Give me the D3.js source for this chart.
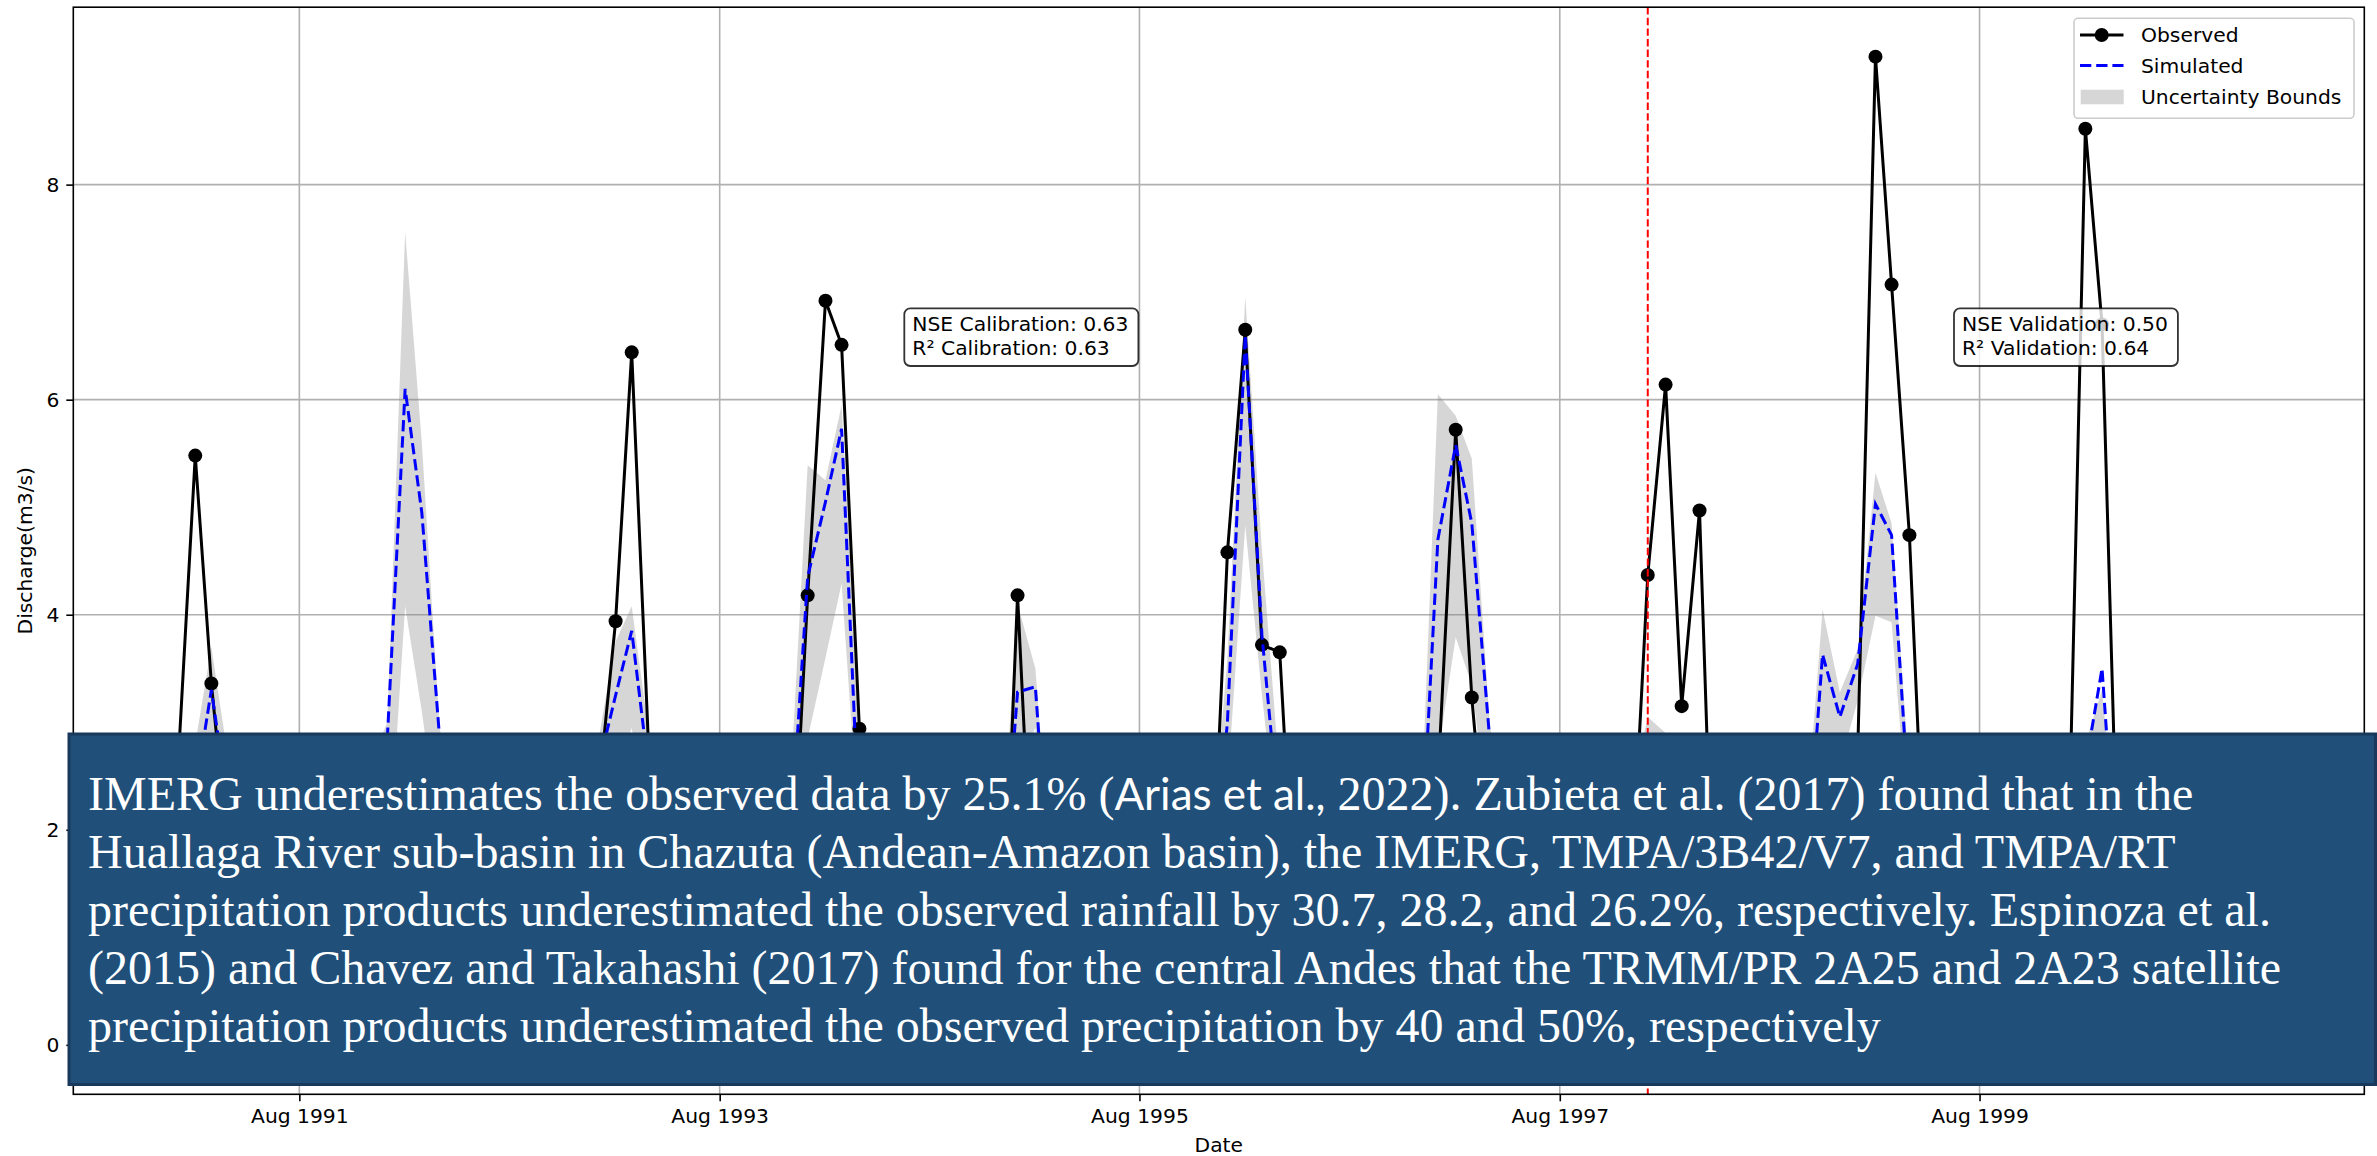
<!DOCTYPE html>
<html><head><meta charset="utf-8">
<script src="https://cdn.jsdelivr.net/npm/d3@7"></script>
<style>body{margin:0;background:#fff;} svg{display:block}</style>
</head><body>
<svg id="chart" width="2377" height="1156"></svg>
<script>
// ---------------- DATA (monthly, Jan 1991 – Dec 2000) ----------------
const firstMonth = "1991-01-01";
const lastMonth  = "2000-12-01";

const observed = [
  2.50, 5.48, 3.36, 1.70, 1.10, 0.80, 0.60, 0.50, 0.60, 0.90, 1.30, 1.80,   // 1991
  2.20, 2.60, 2.40, 1.90, 1.20, 0.80, 0.60, 0.50, 0.60, 0.90, 1.20, 1.60,   // 1992
  2.28, 3.94, 6.44, 2.56, 1.50, 0.90, 0.70, 0.60, 0.60, 0.80, 1.00, 1.02,   // 1993
  4.18, 6.92, 6.51, 2.94, 1.50, 0.90, 0.60, 0.50, 0.50, 0.60, 0.50, 0.10,   // 1994
  4.18, 0.79, 1.20, 1.00, 0.80, 0.60, 0.50, 0.40, 0.50, 0.60, 0.70, 0.85,   // 1995
  4.58, 6.65, 3.72, 3.65, 0.79, 0.70, 0.50, 0.40, 0.50, 0.70, 1.00, 1.50,   // 1996
  2.46, 5.72, 3.23, 1.35, 0.90, 0.60, 0.50, 0.40, 0.50, 0.70, 0.90, 1.19,   // 1997
  4.37, 6.14, 3.15, 4.97, 0.10, 0.50, 0.40, 0.40, 0.50, 0.80, 1.20, 1.90,   // 1998
  2.70, 9.19, 7.07, 4.74, 1.08, 0.70, 0.50, 0.40, 0.50, 0.70, 0.90, 1.10,   // 1999
  1.40, 8.52, 6.70, 0.89, 0.70, 0.50, 0.40, 0.40, 0.50, 0.70, 0.90, 1.20    // 2000
];
const simulated = [
  1.60, 2.36, 3.30, 2.17, 1.40, 0.90, 0.70, 0.60, 0.70, 1.00, 1.50, 2.10,
  2.85, 6.10, 4.95, 2.85, 1.60, 1.00, 0.70, 0.60, 0.70, 1.00, 1.40, 1.90,
  2.56, 3.25, 3.85, 2.48, 1.50, 0.90, 0.70, 0.60, 0.70, 0.90, 1.20, 1.79,
  4.35, 5.05, 5.73, 1.97, 1.30, 0.80, 0.60, 0.50, 0.60, 0.80, 1.00, 1.12,
  3.28, 3.33, 1.24, 1.00, 0.80, 0.60, 0.50, 0.50, 0.60, 0.80, 0.90, 1.20,
  3.00, 6.60, 3.81, 2.05, 1.30, 0.80, 0.60, 0.50, 0.60, 0.90, 1.20, 1.55,
  4.70, 5.58, 4.85, 2.85, 1.40, 0.90, 0.60, 0.50, 0.60, 0.90, 1.30, 1.80,
  2.30, 2.50, 2.20, 2.40, 1.50, 0.90, 0.70, 0.60, 0.80, 1.39, 3.63, 3.05,
  3.54, 5.03, 4.74, 2.17, 1.30, 0.80, 0.60, 0.50, 0.60, 0.80, 1.00, 1.30,
  1.80, 2.58, 3.50, 1.15, 0.80, 0.60, 0.50, 0.50, 0.60, 0.80, 1.00, 1.30
];
const upperBound = [
  2.00, 2.80, 3.70, 2.60, 1.80, 1.20, 0.90, 0.80, 0.90, 1.30, 1.90, 2.60,
  3.00, 7.56, 5.60, 2.95, 2.00, 1.30, 0.90, 0.80, 0.90, 1.30, 1.80, 2.40,
  2.80, 3.75, 4.08, 2.85, 1.90, 1.20, 0.90, 0.80, 0.90, 1.20, 1.50, 2.30,
  5.39, 5.25, 5.95, 2.95, 1.70, 1.10, 0.80, 0.70, 0.80, 1.00, 1.30, 1.50,
  4.10, 3.50, 1.60, 1.30, 1.00, 0.80, 0.70, 0.70, 0.80, 1.00, 1.20, 1.60,
  3.60, 6.96, 4.60, 2.50, 1.70, 1.10, 0.80, 0.70, 0.80, 1.20, 1.60, 1.90,
  6.05, 5.85, 5.45, 3.00, 1.80, 1.20, 0.80, 0.70, 0.80, 1.20, 1.70, 2.30,
  3.05, 2.90, 2.70, 2.80, 1.90, 1.20, 0.90, 0.80, 1.00, 1.90, 4.05, 3.28,
  3.68, 5.32, 4.85, 2.50, 1.60, 1.00, 0.80, 0.70, 0.80, 1.00, 1.30, 1.70,
  2.20, 2.80, 3.30, 1.50, 1.00, 0.80, 0.70, 0.70, 0.80, 1.00, 1.30, 1.70
];
const lowerBound = [
  1.20, 1.90, 2.60, 1.70, 1.00, 0.60, 0.50, 0.40, 0.50, 0.70, 1.10, 1.60,
  1.50, 4.08, 3.10, 1.90, 1.20, 0.70, 0.50, 0.40, 0.50, 0.70, 1.00, 1.40,
  2.20, 2.50, 2.95, 1.90, 1.10, 0.60, 0.50, 0.40, 0.50, 0.60, 0.80, 1.20,
  2.85, 3.60, 4.29, 1.92, 1.00, 0.60, 0.40, 0.30, 0.40, 0.50, 0.60, 0.80,
  2.60, 2.95, 0.90, 0.70, 0.60, 0.40, 0.30, 0.30, 0.40, 0.50, 0.60, 0.80,
  2.40, 4.83, 3.25, 1.80, 1.00, 0.60, 0.40, 0.30, 0.40, 0.60, 0.90, 1.20,
  2.70, 3.79, 3.35, 2.00, 1.00, 0.60, 0.40, 0.30, 0.40, 0.60, 0.90, 1.30,
  1.60, 1.90, 1.70, 1.80, 1.10, 0.60, 0.50, 0.40, 0.50, 1.00, 2.90, 2.60,
  3.20, 3.99, 3.93, 1.90, 1.00, 0.60, 0.40, 0.30, 0.40, 0.60, 0.80, 1.00,
  1.30, 2.00, 2.50, 0.80, 0.50, 0.30, 0.20, 0.20, 0.30, 0.50, 0.70, 0.90
];

const yLimits = [-0.46, 9.65];
const yTicks = [0, 2, 4, 6, 8];
const xTickDates = ["1991-08-01", "1993-08-01", "1995-08-01", "1997-08-01", "1999-08-01"];
const xTickLabels = ["Aug 1991", "Aug 1993", "Aug 1995", "Aug 1997", "Aug 1999"];
const splitDate = "1998-01-01";
const legendLabels = ["Observed", "Simulated", "Uncertainty Bounds"];
const calibrationText = ["NSE Calibration: 0.63", "R\u00B2 Calibration: 0.63"];
const validationText  = ["NSE Validation: 0.50", "R\u00B2 Validation: 0.64"];
const xLabel = "Date";
const yLabel = "Discharge(m3/s)";
const noteLines = [
  "IMERG underestimates the observed data by 25.1% (Arias et al., 2022). Zubieta et al. (2017) found that in the",
  "Huallaga River sub-basin in Chazuta (Andean-Amazon basin), the IMERG, TMPA/3B42/V7, and TMPA/RT",
  "precipitation products underestimated the observed rainfall by 30.7, 28.2, and 26.2%, respectively. Espinoza et al.",
  "(2015) and Chavez and Takahashi (2017) found for the central Andes that the TRMM/PR 2A25 and 2A23 satellite",
  "precipitation products underestimated the observed precipitation by 40 and 50%, respectively"
];
const noteSansPhrase = "Arias et al.,";

// ---------------- LAYOUT ----------------
const SANS = "'DejaVu Sans', sans-serif";
const SERIF = "'Liberation Serif', 'Times New Roman', serif";
const FS = 20.3;
const MR = 7;
const plot = {left: 73.3, right: 2364.3, top: 7.2, bottom: 1094.3};

const parse = d3.utcParse("%Y-%m-%d");
const months = d3.utcMonth.range(parse(firstMonth), d3.utcMonth.offset(parse(lastMonth), 1));
const data = months.map((d, i) => ({date: d, obs: observed[i], sim: simulated[i], lo: lowerBound[i], hi: upperBound[i]}));

const t0 = +months[0], t1 = +months[months.length - 1], span = t1 - t0;
const x = d3.scaleUtc().domain([new Date(t0 - 0.05 * span), new Date(t1 + 0.05 * span)]).range([plot.left, plot.right]);
const y = d3.scaleLinear().domain(yLimits).range([plot.bottom, plot.top]);

const svg = d3.select("#chart");
svg.append("rect").attr("width", 2377).attr("height", 1156).attr("fill", "#fff");

svg.append("clipPath").attr("id", "clip").append("rect")
  .attr("x", plot.left).attr("y", plot.top).attr("width", plot.right - plot.left).attr("height", plot.bottom - plot.top);

// grid
const grid = svg.append("g").attr("stroke", "#b0b0b0").attr("stroke-width", 1.6);
grid.selectAll("line.v").data(xTickDates).join("line")
  .attr("x1", d => x(parse(d))).attr("x2", d => x(parse(d))).attr("y1", plot.top).attr("y2", plot.bottom);
grid.selectAll("line.h").data(yTicks).join("line")
  .attr("x1", plot.left).attr("x2", plot.right).attr("y1", d => y(d)).attr("y2", d => y(d));

const g = svg.append("g").attr("clip-path", "url(#clip)");

// uncertainty band
g.append("path").datum(data)
  .attr("d", d3.area().x(d => x(d.date)).y0(d => y(d.lo)).y1(d => y(d.hi)))
  .attr("fill", "#808080").attr("fill-opacity", 0.32);

// observed
g.append("path").datum(data)
  .attr("d", d3.line().x(d => x(d.date)).y(d => y(d.obs)))
  .attr("fill", "none").attr("stroke", "#000").attr("stroke-width", 3).attr("stroke-linejoin", "round");
g.selectAll("circle.obs").data(data).join("circle")
  .attr("cx", d => x(d.date)).attr("cy", d => y(d.obs)).attr("r", MR).attr("fill", "#000");

// simulated
g.append("path").datum(data)
  .attr("d", d3.line().x(d => x(d.date)).y(d => y(d.sim)))
  .attr("fill", "none").attr("stroke", "#0000ff").attr("stroke-width", 3).attr("stroke-dasharray", "11.3,4.9");

// split line
g.append("line").attr("x1", x(parse(splitDate))).attr("x2", x(parse(splitDate)))
  .attr("y1", plot.top).attr("y2", plot.bottom)
  .attr("stroke", "#ff0000").attr("stroke-width", 2).attr("stroke-dasharray", "7.4,3.2");

// axes
const xAxis = d3.axisBottom(x).tickValues(xTickDates.map(parse)).tickFormat((d, i) => xTickLabels[i])
  .tickSize(7).tickPadding(7).tickSizeOuter(0);
const yAxis = d3.axisLeft(y).tickValues(yTicks).tickFormat(d3.format("d")).tickSize(7).tickPadding(7).tickSizeOuter(0);
const gx = svg.append("g").attr("transform", `translate(0,${plot.bottom})`).call(xAxis);
const gy = svg.append("g").attr("transform", `translate(${plot.left},0)`).call(yAxis);
[gx, gy].forEach(a => {
  a.select(".domain").remove();
  a.selectAll(".tick line").attr("stroke", "#000").attr("stroke-width", 1.6);
  a.selectAll(".tick text").attr("fill", "#000").style("font-family", SANS).style("font-size", FS + "px");
});

// spines
svg.append("rect").attr("x", plot.left).attr("y", plot.top)
  .attr("width", plot.right - plot.left).attr("height", plot.bottom - plot.top)
  .attr("fill", "none").attr("stroke", "#000").attr("stroke-width", 1.6);

// labels
svg.append("text").attr("x", (plot.left + plot.right) / 2).attr("y", 1152).attr("text-anchor", "middle")
  .style("font-family", SANS).style("font-size", FS + "px").attr("fill", "#000").text(xLabel);
svg.append("text").attr("transform", `translate(32,${(plot.top + plot.bottom) / 2}) rotate(-90)`)
  .attr("text-anchor", "middle").style("font-family", SANS).style("font-size", FS + "px").attr("fill", "#000").text(yLabel);

// metric boxes
function metricBox(lines, tx) {
  const grp = svg.append("g");
  const bg = grp.append("rect");
  const txt = grp.append("text").style("font-family", SANS).style("font-size", FS + "px").attr("fill", "#000");
  lines.forEach((l, i) => txt.append("tspan").attr("x", tx).attr("y", 330.7 + i * 24.4).text(l));
  const bb = txt.node().getBBox();
  bg.attr("x", tx - 8).attr("y", 308.3).attr("width", bb.width + 18).attr("height", 57.7)
    .attr("rx", 6).attr("fill", "#fff").attr("fill-opacity", 0.8)
    .attr("stroke", "#000").attr("stroke-opacity", 0.8).attr("stroke-width", 1.8);
}
metricBox(calibrationText, 912.3);
metricBox(validationText, 1962);

// legend
const lg = svg.append("g");
lg.append("rect").attr("x", 2074).attr("y", 18.3).attr("width", 280).attr("height", 100).attr("rx", 4)
  .attr("fill", "#fff").attr("fill-opacity", 0.8).attr("stroke", "#cccccc").attr("stroke-width", 1.6);
const rowY = [35, 65.5, 97];
lg.append("line").attr("x1", 2080).attr("x2", 2123.5).attr("y1", rowY[0]).attr("y2", rowY[0]).attr("stroke", "#000").attr("stroke-width", 3);
lg.append("circle").attr("cx", 2101.7).attr("cy", rowY[0]).attr("r", MR).attr("fill", "#000");
lg.append("line").attr("x1", 2080).attr("x2", 2123.5).attr("y1", rowY[1]).attr("y2", rowY[1]).attr("stroke", "#0000ff").attr("stroke-width", 3).attr("stroke-dasharray", "11.3,4.9");
lg.append("rect").attr("x", 2080.7).attr("y", rowY[2] - 7.3).attr("width", 43).attr("height", 14.6).attr("fill", "#808080").attr("fill-opacity", 0.32);
lg.selectAll("text").data(legendLabels).join("text")
  .attr("x", 2141).attr("y", (d, i) => rowY[i]).attr("dy", "0.36em")
  .style("font-family", SANS).style("font-size", FS + "px").attr("fill", "#000").text(d => d);

// overlay note box
svg.append("rect").attr("x", 69).attr("y", 734).attr("width", 2306.5).attr("height", 350.5)
  .attr("fill", "#204f79").attr("stroke", "#18385c").attr("stroke-width", 3);
const note = svg.append("text").attr("fill", "#fff").style("font-family", SERIF).style("font-size", "48px");
noteLines.forEach((l, i) => {
  const t = note.append("tspan").attr("x", 88).attr("y", 810 + i * 57.9);
  const k = l.indexOf(noteSansPhrase);
  if (k < 0) { t.text(l); return; }
  t.append("tspan").text(l.slice(0, k));
  t.append("tspan").style("font-family", "Lato, 'Open Sans', sans-serif").style("font-size", "44px").text(noteSansPhrase);
  t.append("tspan").text(l.slice(k + noteSansPhrase.length));
});
</script>
</body></html>
